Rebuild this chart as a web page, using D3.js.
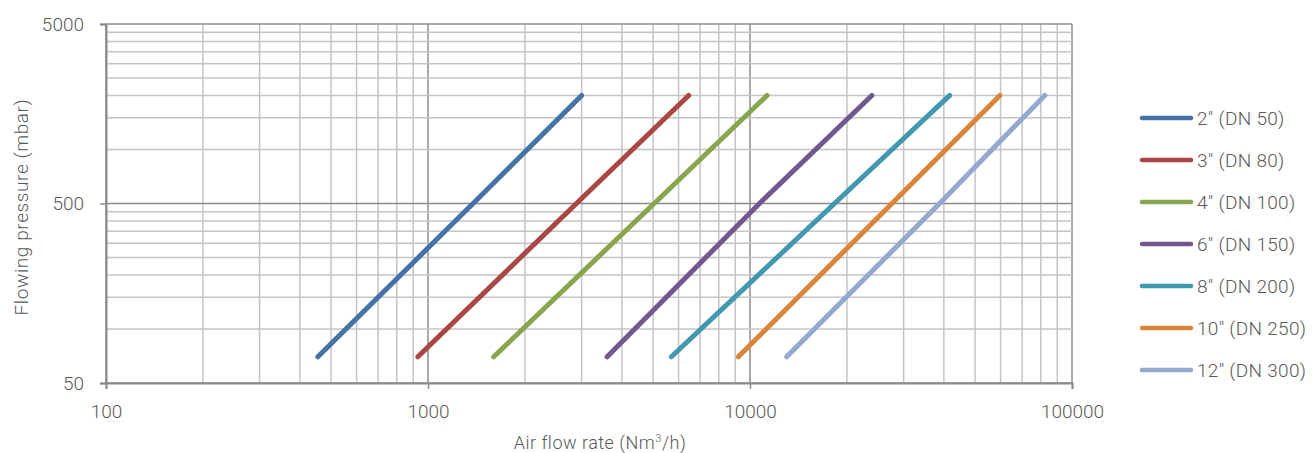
<!DOCTYPE html>
<html>
<head>
<meta charset="utf-8">
<script src="https://cdn.jsdelivr.net/npm/d3@7"></script>
<style>
  body { margin: 0; background: #fff; }
  text { font-family: Roboto, "Noto Sans", sans-serif; fill: #595959; }
</style>
</head>
<body>
<svg id="chart" width="1312" height="453"></svg>
<script>
// flowing pressure levels (mbar) at which the curves were read
var pressure = [70, 500, 2000];

// air flow rate (Nm3/h) for each valve size, at the pressures above
var dn50  = [455, 1380, 3000];
var dn80  = [930, 2890, 6450];
var dn100 = [1600, 5040, 11300];
var dn150 = [3600, 10700, 23900];
var dn200 = [5700, 18300, 41700];
var dn250 = [9200, 27600, 59700];
var dn300 = [13000, 38800, 82300];

var names = ['2" (DN 50)', '3" (DN 80)', '4" (DN 100)', '6" (DN 150)',
             '8" (DN 200)', '10" (DN 250)', '12" (DN 300)'];
var colors = ["#4572A7", "#AA4643", "#89A54E", "#71588F", "#4198AF", "#DB843D", "#93A9CF"];

var xTicks = [100, 1000, 10000, 100000];
var yTicks = [50, 500, 5000];
var yGrid = [50, 100, 150, 200, 250, 300, 350, 400, 450, 500,
             1000, 1500, 2000, 2500, 3000, 3500, 4000, 4500, 5000];

var series = [dn50, dn80, dn100, dn150, dn200, dn250, dn300].map(function(v, i) {
    return { name: names[i], color: colors[i],
             points: v.map(function(q, j) { return [q, pressure[j]]; }) };
});

var svg = d3.select("#chart");
var margin = { left: 106, top: 24, right: 240, bottom: 70 };
var width = 1312 - margin.left - margin.right,
    height = 453 - margin.top - margin.bottom;

var x = d3.scaleLog().domain([100, 100000]).range([0, width]);
var y = d3.scaleLog().domain([50, 5000]).range([height, 0]);

var g = svg.append("g").attr("transform", "translate(" + margin.left + "," + margin.top + ")");

// grid: light minor lines, darker at decades
var xGrid = x.ticks();
g.append("g").selectAll("line").data(xGrid).enter().append("line")
    .attr("x1", function(d) { return x(d); }).attr("x2", function(d) { return x(d); })
    .attr("y1", 0).attr("y2", height)
    .attr("stroke", function(d) { return xTicks.indexOf(d) >= 0 ? "#8c8c8c" : "#c4c4c4"; })
    .attr("stroke-width", 1.5);

g.append("g").selectAll("line").data(yGrid).enter().append("line")
    .attr("x1", 0).attr("x2", width)
    .attr("y1", function(d) { return y(d); }).attr("y2", function(d) { return y(d); })
    .attr("stroke", function(d) { return yTicks.indexOf(d) >= 0 ? "#8c8c8c" : "#c4c4c4"; })
    .attr("stroke-width", 1.5);

// axes
var xAxis = g.append("g").attr("transform", "translate(0," + height + ")")
    .call(d3.axisBottom(x).tickValues(xTicks).tickSize(6).tickPadding(16).tickFormat(d3.format("d")));
var yAxis = g.append("g")
    .call(d3.axisLeft(y).tickValues(yTicks).tickSize(6).tickPadding(16).tickFormat(d3.format("d")));

[xAxis, yAxis].forEach(function(a) {
    a.select(".domain").attr("stroke", "#8c8c8c").attr("stroke-width", 2);
    a.selectAll(".tick line").attr("stroke", "#8c8c8c").attr("stroke-width", 1.5);
    a.selectAll(".tick text").attr("font-size", 19).attr("fill", "#595959")
        .style("font-family", "Roboto, sans-serif").style("font-weight", 300);
});
yAxis.selectAll(".tick text").attr("dy", "0.34em");

// curves
var line = d3.line()
    .x(function(d) { return x(d[0]); })
    .y(function(d) { return y(d[1]); });

g.append("g").selectAll("path").data(series).enter().append("path")
    .attr("d", function(d) { return line(d.points); })
    .attr("fill", "none")
    .attr("stroke", function(d) { return d.color; })
    .attr("stroke-width", 5)
    .attr("stroke-linecap", "round");

// axis titles
var xt = svg.append("text")
    .attr("x", 600).attr("y", 449)
    .attr("text-anchor", "middle").attr("font-size", 18)
    .style("font-weight", 300).style("letter-spacing", "0.5px");
xt.append("tspan").text("Air flow rate (Nm");
xt.append("tspan").text("3").attr("font-size", 11).attr("dy", -7);
xt.append("tspan").text("/h)").attr("dy", 7);

svg.append("text")
    .attr("transform", "translate(28,207) rotate(-90)")
    .attr("text-anchor", "middle").attr("font-size", 19)
    .style("font-weight", 300).style("letter-spacing", "0.6px")
    .text("Flowing pressure (mbar)");

// legend
var legend = svg.append("g").attr("transform", "translate(1142,118)");
var item = legend.selectAll("g").data(series).enter().append("g")
    .attr("transform", function(d, i) { return "translate(0," + i * 42 + ")"; });
item.append("line")
    .attr("x1", 0).attr("x2", 49).attr("y1", 0).attr("y2", 0)
    .attr("stroke", function(d) { return d.color; })
    .attr("stroke-width", 4.5).attr("stroke-linecap", "round");
item.append("text")
    .attr("x", 55).attr("dy", "0.36em").attr("font-size", 19)
    .style("font-weight", 300).style("letter-spacing", "0.3px")
    .text(function(d) { return d.name; });
</script>
</body>
</html>
